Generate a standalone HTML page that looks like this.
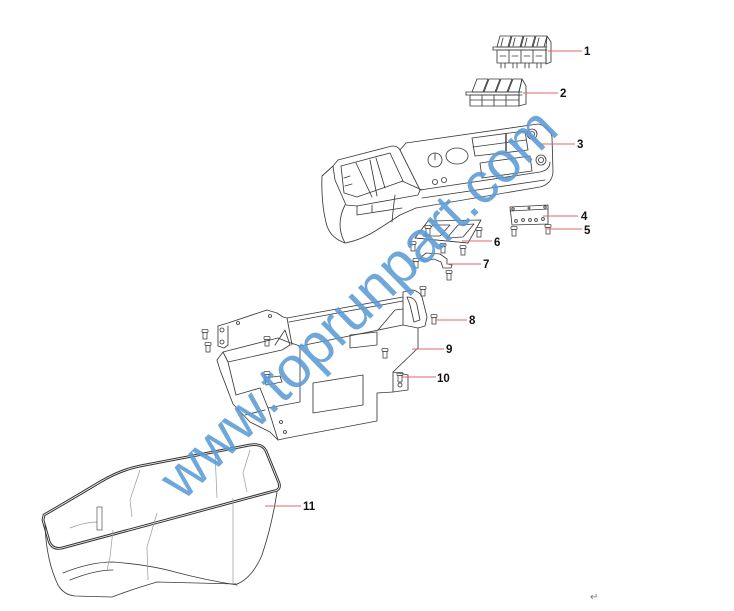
<!DOCTYPE html>
<html><head><meta charset="utf-8"><style>
html,body{margin:0;padding:0;background:#fff;}
svg{display:block;}
.l{fill:none;stroke:#3a3a3a;stroke-width:0.85;stroke-linejoin:round;stroke-linecap:round;}
.g{fill:none;stroke:#999;stroke-width:0.7;}
.r{stroke:#e06666;stroke-width:0.9;}
.t{font-family:"Liberation Sans",Arial,sans-serif;font-size:11.5px;font-weight:bold;fill:#111;}
</style></head><body>
<svg width="734" height="611" viewBox="0 0 734 611" xmlns="http://www.w3.org/2000/svg">
<defs>
<symbol id="s" viewBox="0 0 8 11" width="8" height="11" overflow="visible">
<rect x="1" y="0.5" width="6" height="3" rx="1" fill="#fff" stroke="#444" stroke-width="0.8"/>
<rect x="2" y="3.5" width="4" height="6.5" fill="#fff" stroke="#444" stroke-width="0.8"/>
</symbol>
</defs>
<rect width="734" height="611" fill="#fff"/>

<!-- Part 1 -->
<g class="l">
<polygon points="500,36 511,36 508,47 497,47"/>
<polygon points="512,36 523,36 520,47 509,47"/>
<polygon points="524,36 535,36 532,47 521,47"/>
<polygon points="536,36 547,36 544,47 533,47"/>
<path d="M503,38 L501,46 M515,38 L513,46 M527,38 L525,46 M539,38 L537,46"/>
<line x1="493" y1="47" x2="547" y2="47"/><line x1="493" y1="50" x2="547" y2="50"/>
<line x1="493" y1="47" x2="493" y2="50"/>
<polygon points="547,36 551,42 551,62 546,64 546,47"/>
<rect x="497" y="50" width="49" height="13"/>
<line x1="509" y1="50" x2="509" y2="63"/><line x1="521" y1="50" x2="521" y2="63"/><line x1="533" y1="50" x2="533" y2="63"/>
<path d="M500,56 h6 M512,56 h6 M524,56 h6 M536,56 h6"/>
<path d="M501,63v5M505,63v5M513,63v5M517,63v5M525,63v5M529,63v5M537,63v5M541,63v5"/>
</g>
<!-- Part 2 -->
<g class="l">
<polygon points="477,79 488,79 483,92 472,92"/>
<polygon points="489,79 500,79 495,92 484,92"/>
<polygon points="501,79 512,79 507,92 496,92"/>
<polygon points="513,79 522,79 519,92 508,92"/>
<line x1="466" y1="92" x2="522" y2="92"/><line x1="466" y1="95" x2="522" y2="95"/>
<line x1="466" y1="92" x2="466" y2="95"/>
<polygon points="522,79 526,86 526,104 519,106 519,92"/>
<rect x="470" y="95" width="49" height="11"/>
<line x1="470" y1="100" x2="519" y2="100"/>
<line x1="482" y1="95" x2="482" y2="106"/><line x1="494" y1="95" x2="494" y2="106"/><line x1="506" y1="95" x2="506" y2="106"/>
</g>

<!-- Part 3 console -->
<g class="l">
<path d="M333,166 L322,176 Q321,205 327,226 Q331,238 345,243 Q362,240 380,228 L400,215 L416,208 L540,187 Q552,184 553,172 L552,137 Q550,127 538,124 L406,143"/>
<path d="M333,166 L338,160 L392,146 Q398,146 400,150 L420,190 L418,195 L357,206 L346,205 L335,180 Z"/>
<path d="M341,166 L390,153 L403,181 L357,197 L344,193 Z"/>
<path d="M356,163 L372,197 M370,160 L377,196 M376,158 L385,188 M344,178 L350,176 M345,186 L352,184"/>
<path d="M357,206 L357,215 L402,208 M372,205 L372,212"/>
<path d="M420,190 L540,172 Q550,170 550,162 M422,198 L545,180"/>
<path d="M402,181 L422,190 M400,150 L406,143"/>
<path d="M345,205 Q335,225 345,243 M395,195 Q393,210 392,222"/>
<circle cx="435" cy="160" r="7"/><path d="M435,153 V160"/>
<ellipse cx="457" cy="156" rx="11" ry="8"/>
<circle cx="435" cy="182" r="2.5"/><circle cx="444" cy="180" r="2.5"/>
<polygon points="472,138 525,131 528,150 475,156"/>
<line x1="473" y1="147" x2="526" y2="140"/><line x1="506" y1="134" x2="506" y2="151" stroke-width="1.4"/>
<polygon points="480,163 530,156 532,171 482,178"/>
<circle cx="532" cy="134" r="5"/><circle cx="532" cy="134" r="2.5"/>
<circle cx="541" cy="160" r="5"/><circle cx="541" cy="160" r="2.5"/>
</g>

<!-- Part 4 -->
<g class="l">
<polygon points="510,207 548,205 548,224 512,225"/>
<line x1="510" y1="211" x2="548" y2="209"/>
<circle cx="513" cy="209" r="1.2"/><circle cx="545" cy="207" r="1.2"/><circle cx="529" cy="208" r="1"/>
<circle cx="516" cy="221" r="1.4"/><circle cx="523" cy="220" r="1.4"/><circle cx="530" cy="220" r="1.4"/><circle cx="536" cy="220" r="1.4"/><circle cx="543" cy="219" r="1.4"/>
</g>
<use href="#s" x="510" y="226"/><use href="#s" x="544" y="224"/>

<!-- Part 6 -->
<g class="l">
<polygon points="415,238 428,221 481,220 468,243"/>
<polygon points="423,236 433,225 450,225 440,236"/>
<polygon points="447,238 458,225 474,224 463,237"/>
<line x1="415" y1="238" x2="468" y2="243"/>
</g>
<use href="#s" x="424" y="225"/><use href="#s" x="475" y="227"/><use href="#s" x="409" y="241"/><use href="#s" x="439" y="243"/><use href="#s" x="459" y="245"/>
<!-- Part 7 -->
<g class="l">
<path d="M420,258 L426,253 L440,254 L447,259 L447,264 L452,265 L451,268 L443,268 L441,262 L434,259 L424,261 Z"/>
</g>
<use href="#s" x="412" y="258"/><use href="#s" x="445" y="270"/><use href="#s" x="419" y="286"/>
<use href="#s" x="430" y="314"/><use href="#s" x="396" y="372"/>
<use href="#s" x="201" y="329"/><use href="#s" x="204" y="342"/><use href="#s" x="263" y="336"/><use href="#s" x="263" y="371"/><use href="#s" x="381" y="348"/>

<!-- Part 9 -->
<g class="l">
<path d="M287,318 L403,297 L403,292 L413,290 Q420,292 422,297 L427,317 L425,326 L418,328"/>
<path d="M289,322 L403,301"/>
<path d="M407,297 Q415,297 417,305 L420,320 L414,322 L410,305 Z"/>
<path d="M403,297 L403,325 L418,328 L418,348 L393,372 L393,392 L377,393 L377,421 L287,438 L278,440 L268,408 L300,402 L300,346 L403,325"/>
<path d="M393,372 L408,375 L408,390 L393,392"/><circle cx="400" cy="385" r="2"/>
<polygon points="313,383 363,375 363,405 313,413"/>
<polygon points="350,335 377,332 377,345 350,348"/>
<path d="M378,330 L395,310 L403,309"/>
<path d="M218,326 L228,323 L267,310 L277,313 L283,317 L287,318 L292,345"/>
<path d="M218,326 L218,346 L224,348 L228,345 L228,326"/>
<circle cx="222" cy="330" r="2"/><circle cx="222" cy="342" r="2"/>
<circle cx="238" cy="323" r="1.5"/><circle cx="270" cy="316" r="1.5"/>
<path d="M217,360 L223,352 L278,338 L288,342 L300,346"/>
<path d="M217,360 L220,370 L233,404 L250,422 L270,432 L278,440"/>
<path d="M223,352 L228,362 L236,395 M228,362 L282,350 L290,345"/>
<path d="M236,395 L260,388 L268,408 M245,415 L265,410"/>
<path d="M265,378 L280,376 L282,382 L266,385 Z"/>
<circle cx="281" cy="422" r="1.5"/><circle cx="285" cy="432" r="1.5"/>
<path d="M275,345 L285,330 M285,330 L290,345"/>
</g>

<!-- Part 11 tub -->
<g>
<path d="M43,520 L44,515 Q70,500 100,482 Q120,470 140,466 L250,445 Q262,443 266,451 L279,483 Q281,490 274,491 L62,548 Q52,550 49,541 Z" fill="none" stroke="#333" stroke-width="2.8" stroke-linejoin="round"/>
<path d="M43,520 L44,515 Q70,500 100,482 Q120,470 140,466 L250,445 Q262,443 266,451 L279,483 Q281,490 274,491 L62,548 Q52,550 49,541 Z" fill="none" stroke="#fff" stroke-width="0.8" stroke-linejoin="round"/>
<g class="l">
<path d="M45,524 Q46,560 58,585 Q64,595 75,596 L112,597 Q130,590 157,582 L237,584 Q252,578 262,555 Q272,525 277,492"/>
<path d="M63,573 Q90,562 113,562 Q150,565 175,572 Q205,580 237,585"/>
<path d="M70,580 Q95,570 113,570"/>
</g>
<g class="g">
<path d="M233,498 L233,583"/>
<path d="M157,513 L147,547 L148,580"/>
<path d="M113,530 L110,557 L107,570"/>
<path d="M140,470 L130,500 L132,517"/>
<path d="M215,452 L217,498"/>
<path d="M250,450 L243,473 L247,492"/>
<path d="M70,528 Q85,522 97,522"/>
</g>
<rect x="97" y="507" width="5" height="23" fill="#fff" stroke="#555" stroke-width="0.7"/>
</g>

<!-- leaders -->
<g class="r">
<line x1="548" y1="51" x2="582" y2="51"/>
<line x1="523" y1="93" x2="558" y2="93"/>
<line x1="540" y1="144" x2="575" y2="144"/>
<line x1="543" y1="216" x2="578" y2="216"/>
<line x1="547" y1="229" x2="582" y2="229"/>
<line x1="462" y1="241" x2="492" y2="241"/>
<line x1="447" y1="264" x2="481" y2="264"/>
<line x1="435" y1="320" x2="467" y2="320"/>
<line x1="412" y1="349" x2="444" y2="349"/>
<line x1="402" y1="377" x2="436" y2="377"/>
<line x1="265" y1="506" x2="301" y2="506"/>
</g>
<g class="t">
<text x="584" y="55">1</text>
<text x="560" y="97">2</text>
<text x="577" y="148">3</text>
<text x="581" y="220">4</text>
<text x="584" y="234">5</text>
<text x="494" y="246">6</text>
<text x="483" y="268">7</text>
<text x="469" y="324">8</text>
<text x="446" y="353">9</text>
<text x="437" y="382">10</text>
<text x="303" y="510">11</text>
</g>
<text x="590" y="600" font-family="'DejaVu Sans',sans-serif" font-size="10" fill="#777">↵</text>

<!-- watermark -->
<text transform="translate(183,502) rotate(-44.4)" font-family="'Liberation Sans',Arial,sans-serif" font-size="58" fill="#5b9bd5" fill-opacity="0.88">www.toprunpart.com</text>
</svg>
</body></html>
